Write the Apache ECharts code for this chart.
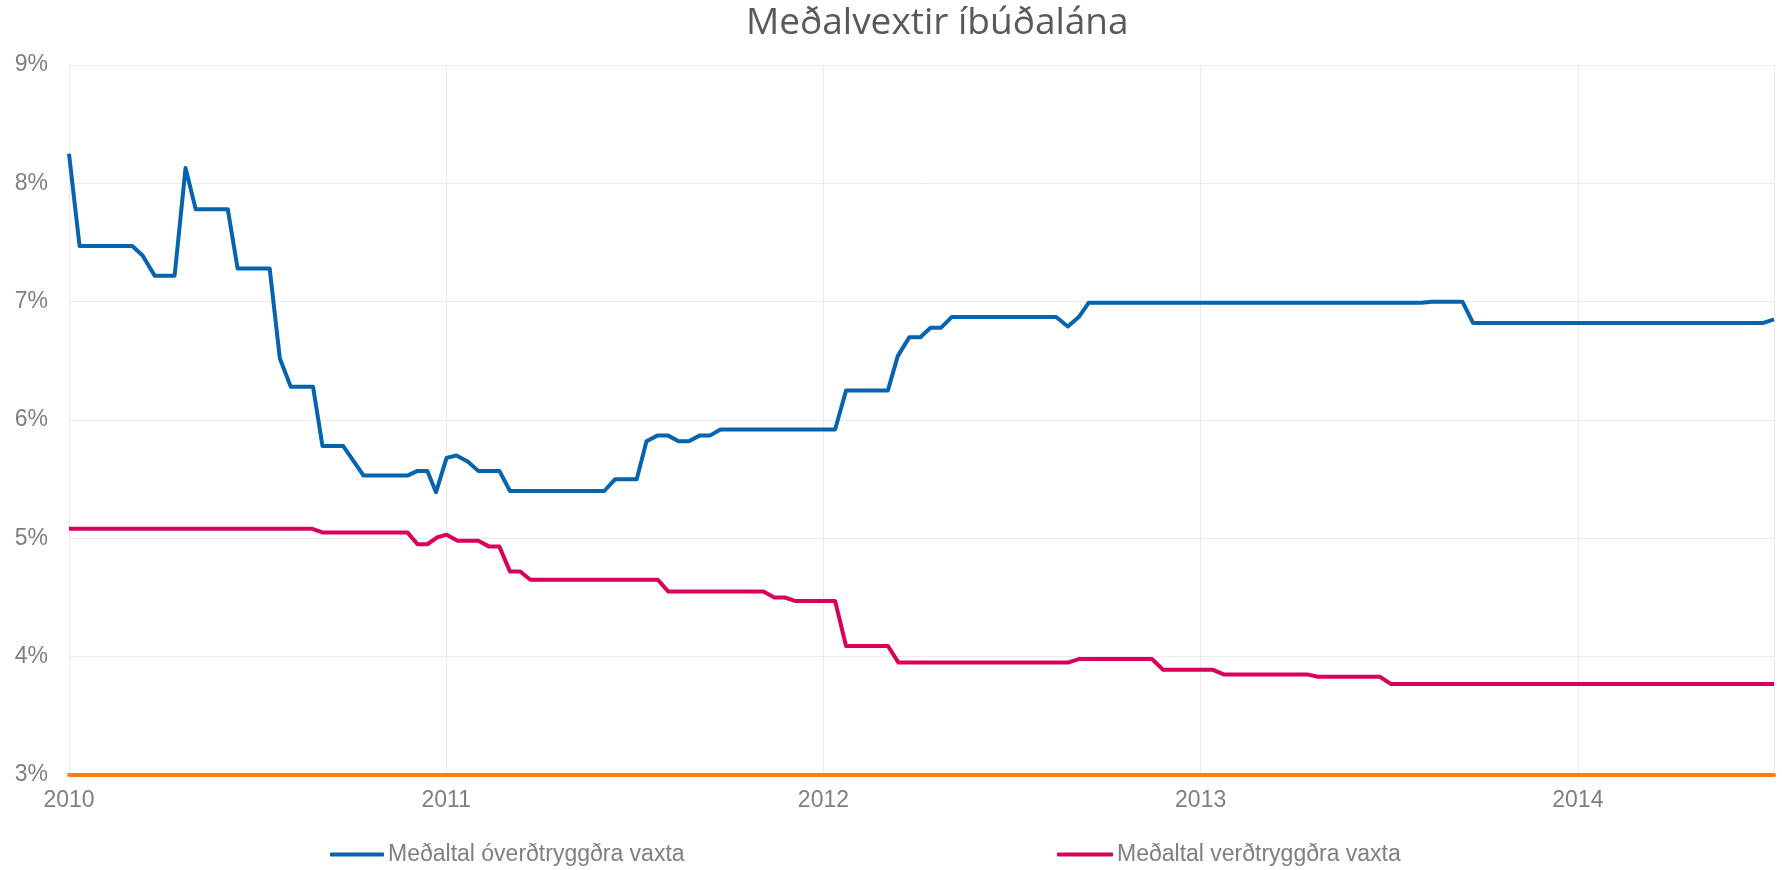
<!DOCTYPE html>
<html>
<head>
<meta charset="utf-8">
<title>Meðalvextir íbúðalána</title>
<script src="https://cdn.jsdelivr.net/npm/echarts@6/dist/echarts.min.js"></script>
<style>
    html, body { margin: 0; padding: 0; background: #fff; }
    #main { width: 1782px; height: 870px; }
</style>
</head>
<body>
<div id="main"></div>
<script>
// Gögn lesin af myndinni: [ár, vextir %] í brotpunktum línanna
const overdtryggd = [
    [2010.000, 8.25], [2010.028, 7.47], [2010.168, 7.47], [2010.195, 7.39], [2010.227, 7.22],
    [2010.280, 7.22], [2010.309, 8.13], [2010.336, 7.78], [2010.421, 7.78], [2010.447, 7.28],
    [2010.532, 7.28], [2010.559, 6.52], [2010.588, 6.28], [2010.647, 6.28], [2010.672, 5.78],
    [2010.727, 5.78], [2010.781, 5.53], [2010.897, 5.53], [2010.924, 5.57], [2010.950, 5.57],
    [2010.973, 5.39], [2011.001, 5.68], [2011.027, 5.70], [2011.057, 5.65], [2011.085, 5.57],
    [2011.141, 5.57], [2011.169, 5.40], [2011.419, 5.40], [2011.448, 5.50], [2011.505, 5.50],
    [2011.531, 5.82], [2011.561, 5.87], [2011.587, 5.87], [2011.616, 5.82], [2011.643, 5.82],
    [2011.673, 5.87], [2011.700, 5.87], [2011.727, 5.92], [2012.031, 5.92], [2012.060, 6.25],
    [2012.171, 6.25], [2012.197, 6.54], [2012.228, 6.70], [2012.257, 6.70], [2012.284, 6.78],
    [2012.312, 6.78], [2012.340, 6.87], [2012.617, 6.87], [2012.648, 6.79], [2012.677, 6.87],
    [2012.703, 6.99], [2013.585, 6.99], [2013.613, 7.00], [2013.694, 7.00], [2013.722, 6.82],
    [2014.492, 6.82], [2014.520, 6.85]
];

const verdtryggd = [
    [2010.000, 5.08], [2010.645, 5.08], [2010.672, 5.05], [2010.897, 5.05], [2010.924, 4.95],
    [2010.950, 4.95], [2010.977, 5.01], [2011.001, 5.03], [2011.030, 4.98], [2011.085, 4.98],
    [2011.114, 4.93], [2011.141, 4.93], [2011.169, 4.72], [2011.196, 4.72], [2011.223, 4.65],
    [2011.561, 4.65], [2011.589, 4.55], [2011.841, 4.55], [2011.870, 4.50], [2011.898, 4.50],
    [2011.926, 4.47], [2012.031, 4.47], [2012.060, 4.09], [2012.171, 4.09], [2012.199, 3.95],
    [2012.648, 3.95], [2012.677, 3.98], [2012.871, 3.98], [2012.900, 3.89], [2013.031, 3.89],
    [2013.061, 3.85], [2013.282, 3.85], [2013.311, 3.83], [2013.475, 3.83], [2013.504, 3.77],
    [2014.520, 3.77]
];

const seriesNames = ['Meðaltal óverðtryggðra vaxta', 'Meðaltal verðtryggðra vaxta'];
const xStart = 2010;
const xEnd = 2014.52;
const yMin = 3;
const yMax = 9;

const labelGray = '#7f7f7f';
const labelFont = '"Liberation Sans", Arial, sans-serif';

var myChart = echarts.init(document.getElementById('main'));

const option = {
    animation: false,
    backgroundColor: '#ffffff',
    title: {
        text: 'Meðalvextir íbúðalána',
        left: 741,
        top: 0,
        textStyle: {
            fontFamily: '"Open Sans", sans-serif',
            fontSize: 37,
            fontWeight: 'normal',
            color: '#595959'
        }
    },
    grid: {
        left: 69,
        right: 8,
        top: 65,
        bottom: 95
    },
    legend: [
        {
            data: [seriesNames[0]],
            left: 330,
            top: 843,
            padding: 0,
            icon: 'roundRect',
            itemWidth: 54,
            itemHeight: 4,
            textStyle: { color: labelGray, fontSize: 23, fontFamily: labelFont, padding: [0, 0, 0, -1] }
        },
        {
            data: [seriesNames[1]],
            left: 1057,
            top: 843,
            padding: 0,
            icon: 'roundRect',
            itemWidth: 56,
            itemHeight: 4,
            textStyle: { color: labelGray, fontSize: 23, fontFamily: labelFont, padding: [0, 0, 0, -1] }
        }
    ],
    xAxis: {
        type: 'value',
        min: xStart,
        max: xEnd,
        interval: 1,
        axisLine: {
            show: true,
            onZero: false,
            lineStyle: { color: '#ff7f0e', width: 4 }
        },
        axisTick: { show: false },
        axisLabel: {
            color: labelGray,
            fontSize: 23,
            fontFamily: labelFont,
            margin: 14,
            showMaxLabel: false,
            formatter: function (value) {
                return Number.isInteger(value) ? String(value) : '';
            }
        },
        splitLine: {
            show: true,
            lineStyle: { color: '#ebebeb', width: 1 }
        }
    },
    yAxis: {
        type: 'value',
        min: yMin,
        max: yMax,
        interval: 1,
        axisLine: { show: false },
        axisTick: { show: false },
        axisLabel: {
            color: labelGray,
            fontSize: 23,
            fontFamily: labelFont,
            margin: 21,
            formatter: '{value}%'
        },
        splitLine: {
            show: true,
            lineStyle: { color: '#ebebeb', width: 1 }
        }
    },
    series: [
        {
            name: seriesNames[0],
            type: 'line',
            data: overdtryggd,
            symbol: 'none',
            color: '#0563b0',
            lineStyle: { color: '#0563b0', width: 4, join: 'round' },
            z: 3
        },
        {
            name: seriesNames[1],
            type: 'line',
            data: verdtryggd,
            symbol: 'none',
            color: '#d9005b',
            lineStyle: { color: '#d9005b', width: 4, join: 'round' },
            z: 3
        }
    ]
};

myChart.setOption(option);
</script>
</body>
</html>
